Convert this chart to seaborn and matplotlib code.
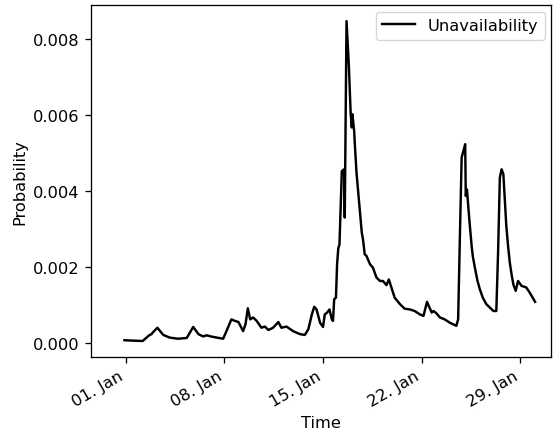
import pandas as pd
import numpy as np
import matplotlib
matplotlib.use("Agg")
import matplotlib.pyplot as plt
import matplotlib.dates as mdates
import seaborn as sns

# timestamps (samples)
times = [
    "2018-12-31 22:00", "2019-01-02 05:00", "2019-01-02 16:00", "2019-01-02 20:00",
    "2019-01-02 22:00", "2019-01-03 06:00", "2019-01-03 16:00", "2019-01-04 03:00",
    "2019-01-04 17:00", "2019-01-05 08:00", "2019-01-05 19:00", "2019-01-06 04:00",
    "2019-01-06 12:00", "2019-01-06 18:00", "2019-01-07 01:00", "2019-01-07 11:00",
    "2019-01-07 22:00", "2019-01-08 05:00", "2019-01-08 12:00", "2019-01-08 18:00",
    "2019-01-09 00:00", "2019-01-09 08:00", "2019-01-09 12:00", "2019-01-09 16:00",
    "2019-01-09 20:00", "2019-01-10 01:00", "2019-01-10 07:00", "2019-01-10 15:00",
    "2019-01-10 21:00", "2019-01-11 03:00", "2019-01-11 11:00", "2019-01-11 20:00",
    "2019-01-12 01:00", "2019-01-12 10:00", "2019-01-12 21:00", "2019-01-13 09:00",
    "2019-01-13 17:00", "2019-01-13 23:00", "2019-01-14 05:00", "2019-01-14 09:00",
    "2019-01-14 13:00", "2019-01-14 19:00", "2019-01-15 00:00", "2019-01-15 03:00",
    "2019-01-15 07:00", "2019-01-15 11:00", "2019-01-15 15:00", "2019-01-15 17:00",
    "2019-01-15 19:00", "2019-01-15 22:00", "2019-01-16 00:00", "2019-01-16 02:00",
    "2019-01-16 04:00", "2019-01-16 08:00", "2019-01-16 12:00", "2019-01-16 13:00",
    "2019-01-16 16:00", "2019-01-16 20:00", "2019-01-16 23:00", "2019-01-17 01:00",
    "2019-01-17 02:00", "2019-01-17 05:00", "2019-01-17 06:00", "2019-01-17 09:00",
    "2019-01-17 14:00", "2019-01-17 18:00", "2019-01-17 20:00", "2019-01-17 23:00",
    "2019-01-18 02:00", "2019-01-18 08:00", "2019-01-18 13:00", "2019-01-18 19:00",
    "2019-01-19 01:00", "2019-01-19 06:00", "2019-01-19 12:00", "2019-01-19 16:00",
    "2019-01-19 21:00", "2019-01-20 02:00", "2019-01-20 11:00", "2019-01-20 19:00",
    "2019-01-21 04:00", "2019-01-21 12:00", "2019-01-21 21:00", "2019-01-22 03:00",
    "2019-01-22 09:00", "2019-01-22 17:00", "2019-01-22 20:00", "2019-01-23 01:00",
    "2019-01-23 07:00", "2019-01-23 15:00", "2019-01-24 00:00", "2019-01-24 11:00",
    "2019-01-24 14:00", "2019-01-24 17:00", "2019-01-24 20:00", "2019-01-24 23:00",
    "2019-01-25 02:00", "2019-01-25 03:00", "2019-01-25 05:00", "2019-01-25 09:00",
    "2019-01-25 13:00", "2019-01-25 15:00", "2019-01-25 19:00", "2019-01-25 23:00",
    "2019-01-26 03:00", "2019-01-26 08:00", "2019-01-26 14:00", "2019-01-26 20:00",
    "2019-01-27 02:00", "2019-01-27 07:00", "2019-01-27 10:00", "2019-01-27 13:00",
    "2019-01-27 16:00", "2019-01-27 19:00", "2019-01-28 00:00", "2019-01-28 03:00",
    "2019-01-28 06:00", "2019-01-28 09:00", "2019-01-28 12:00", "2019-01-28 16:00",
    "2019-01-28 20:00", "2019-01-29 02:00", "2019-01-29 10:00", "2019-01-29 16:00",
    "2019-01-30 01:00",
]

unavailability = [
    0.00008, 0.00006, 0.00021, 0.00024,
    0.00028, 0.00041, 0.00022, 0.00015,
    0.00012, 0.00014, 0.00043, 0.00024,
    0.00018, 0.00021, 0.00018, 0.00015,
    0.00012, 0.00037, 0.00063, 0.00059,
    0.00056, 0.00032, 0.00050, 0.00092,
    0.00063, 0.00068, 0.00059, 0.00041,
    0.00044, 0.00035, 0.00041, 0.00056,
    0.00041, 0.00044, 0.00032, 0.00024,
    0.00022, 0.00037, 0.00076, 0.00096,
    0.00089, 0.00054, 0.00043, 0.00076,
    0.00081, 0.00089, 0.00063, 0.00059,
    0.00116, 0.00120, 0.00210, 0.00250,
    0.00260, 0.00453, 0.00458, 0.00331,
    0.00848, 0.00730, 0.00607, 0.00568,
    0.00603, 0.00559, 0.00528, 0.00449,
    0.00361, 0.00291, 0.00274, 0.00234,
    0.00230, 0.00208, 0.00199, 0.00173,
    0.00164, 0.00164, 0.00153, 0.00168,
    0.00144, 0.00120, 0.00103, 0.00091,
    0.00089, 0.00085, 0.00076, 0.00072,
    0.00109, 0.00081, 0.00085, 0.00079,
    0.00068, 0.00063, 0.00054, 0.00046,
    0.00063, 0.00282, 0.00489, 0.00506,
    0.00524, 0.00388, 0.00405, 0.00326,
    0.00256, 0.00229, 0.00195, 0.00164,
    0.00142, 0.00120, 0.00103, 0.00094,
    0.00085, 0.00085, 0.00239, 0.00436,
    0.00458, 0.00445, 0.00309, 0.00256,
    0.00212, 0.00181, 0.00155, 0.00138,
    0.00164, 0.00151, 0.00147, 0.00133,
    0.00109,
]

df = pd.DataFrame({"Time": pd.to_datetime(times), "Probability": unavailability})

# reference was drawn a bit larger than matplotlib defaults
k = 1.17
plt.rcParams.update({
    "font.size": 10 * k,
    "axes.linewidth": 0.8 * k,
    "xtick.major.size": 3.5 * k, "ytick.major.size": 3.5 * k,
    "xtick.major.width": 0.8 * k, "ytick.major.width": 0.8 * k,
    "xtick.major.pad": 3.5 * k, "ytick.major.pad": 3.5 * k,
})

fig = plt.figure(figsize=(5.53, 4.35), dpi=100)
ax = fig.add_axes([0.164, 0.177, 0.833, 0.809])

sns.lineplot(data=df, x="Time", y="Probability", color="black",
             linewidth=1.5 * k, label="Unavailability", ax=ax)

ax.set_xlim(pd.Timestamp("2018-12-29 12:30"), pd.Timestamp("2019-01-31 04:40"))
ax.xaxis.set_major_locator(mdates.DayLocator(bymonthday=[1, 8, 15, 22, 29]))
ax.xaxis.set_major_formatter(mdates.DateFormatter("%d. %b"))
plt.setp(ax.get_xticklabels(), rotation=30, ha="right")

ax.set_xlabel("Time")
ax.set_ylabel("Probability")
ax.legend(loc="upper right", borderaxespad=0.4)

fig.savefig("out.png", dpi=100)
